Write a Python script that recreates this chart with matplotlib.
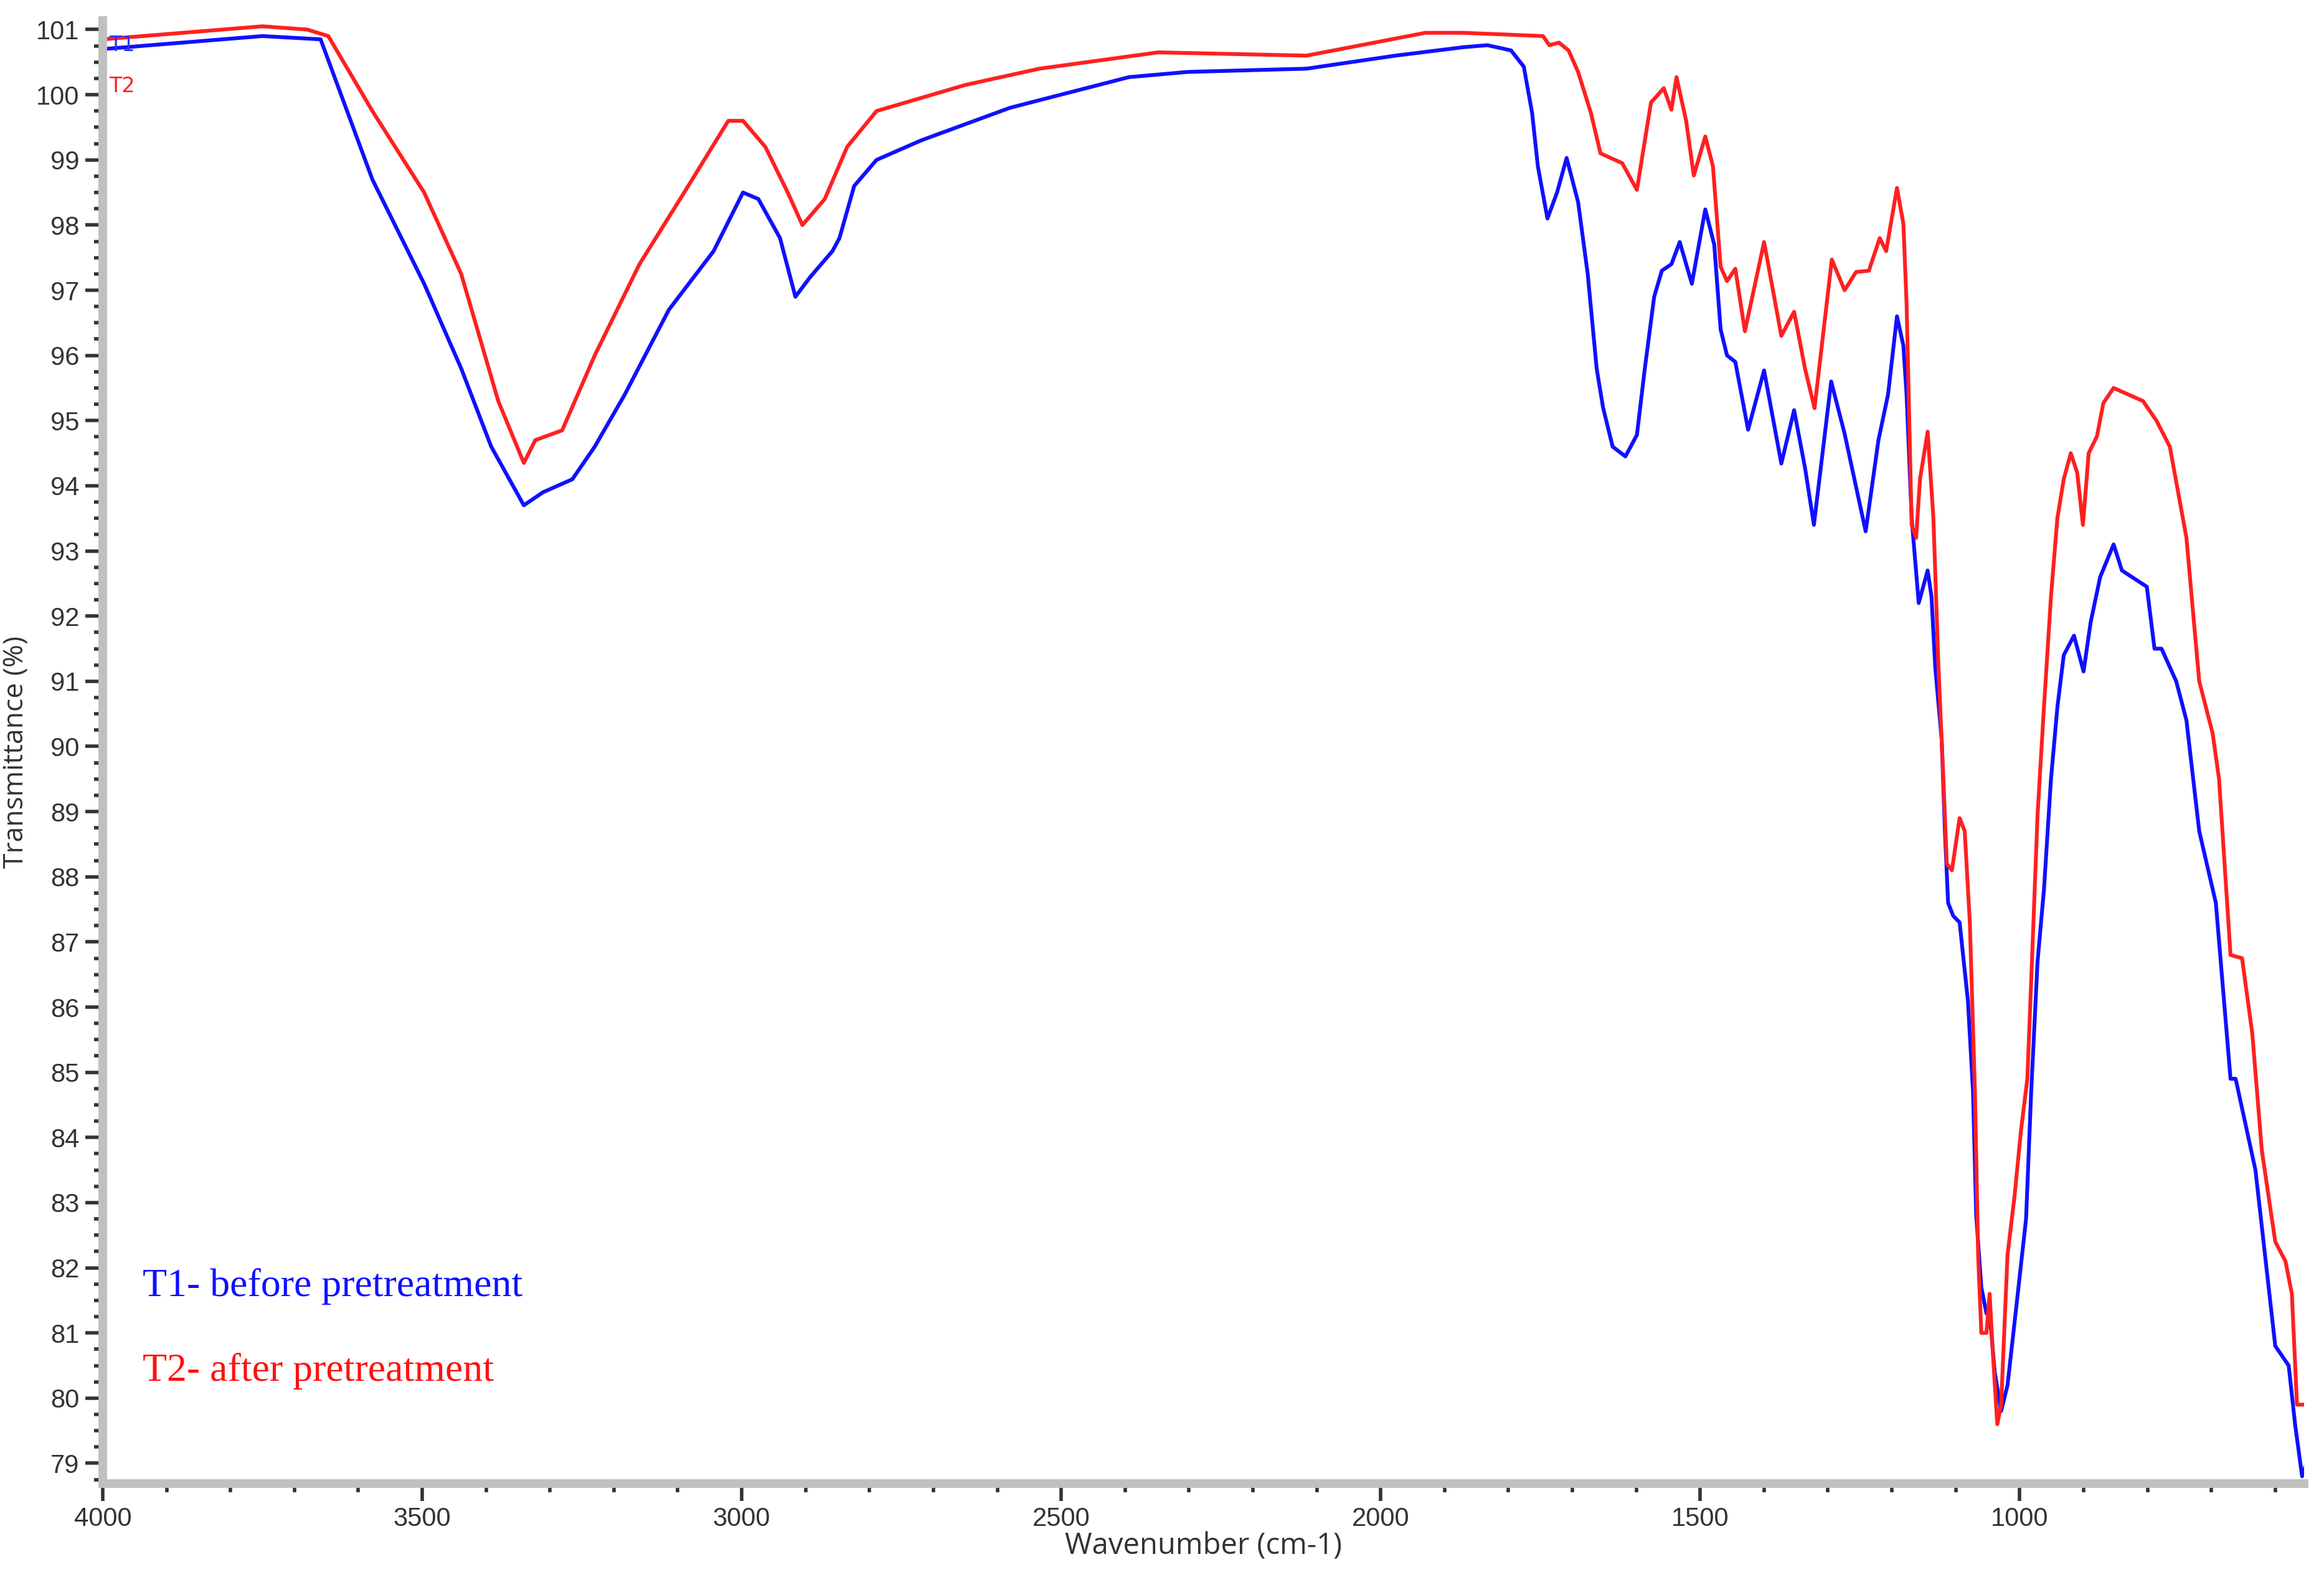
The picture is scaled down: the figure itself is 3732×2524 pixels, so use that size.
import matplotlib
matplotlib.use("Agg")
import matplotlib.pyplot as plt
from matplotlib.ticker import MultipleLocator

t1_wn = [4000,3750,3659,3578,3497,3439,3392,3341,3311,3265,3230,3183,3114,3044,2998,2974,2940,2916,2893,2858,2847,2824,2789,2719,2580,2394,2302,2116,1977,1870,1833,1796,1776,1763,1754,1739,1724,1709,1691,1676,1662,1652,1637,1617,1599,1587,1572,1560,1545,1532,1513,1502,1492,1478,1468,1458,1445,1425,1400,1373,1353,1336,1322,1295,1274,1241,1221,1206,1192,1182,1177,1169,1158,1144,1138,1132,1122,1117,1112,1104,1094,1081,1073,1068,1060,1052,1047,1039,1029,1019,1003,990,982,972,962,951,941,931,915,900,889,874,853,840,801,789,778,755,739,719,693,670,662,631,600,579,569,558,551]
t1_val = [100.7,100.9,100.85,98.7,97.1,95.8,94.6,93.7,93.9,94.1,94.6,95.4,96.7,97.6,98.5,98.4,97.8,96.9,97.2,97.6,97.8,98.6,99.0,99.3,99.8,100.27,100.35,100.4,100.6,100.73,100.76,100.68,100.43,99.72,98.9,98.1,98.5,99.03,98.35,97.25,95.8,95.2,94.6,94.45,94.78,95.77,96.9,97.3,97.4,97.74,97.1,97.7,98.24,97.7,96.4,96.0,95.9,94.86,95.77,94.34,95.16,94.28,93.4,95.6,94.8,93.3,94.7,95.4,96.6,96.15,95.4,93.5,92.2,92.7,92.3,91.2,90.1,88.7,87.6,87.4,87.3,86.1,84.7,82.8,81.7,81.3,81.3,80.4,79.8,80.2,81.6,82.75,84.7,86.7,87.8,89.5,90.6,91.4,91.7,91.15,91.9,92.6,93.1,92.7,92.45,91.5,91.5,91.0,90.4,88.7,87.6,84.9,84.9,83.5,80.8,80.5,79.6,78.8,79.0]

t2_wn = [4000,3750,3680,3647,3578,3497,3439,3381,3341,3323,3281,3230,3160,3090,3021,2998,2963,2928,2905,2870,2835,2789,2650,2534,2348,2116,1930,1870,1746,1736,1721,1706,1691,1671,1656,1622,1599,1577,1557,1545,1537,1522,1510,1492,1480,1468,1458,1445,1430,1400,1373,1353,1336,1321,1294,1274,1256,1236,1219,1209,1192,1182,1177,1169,1162,1156,1144,1135,1127,1119,1114,1106,1094,1086,1078,1070,1065,1060,1052,1047,1042,1035,1029,1019,1008,998,988,980,972,962,951,941,931,920,910,901,892,879,869,853,807,786,765,739,719,698,688,670,652,636,621,600,584,574,566,551]
t2_val = [100.85,101.05,101.0,100.9,99.75,98.5,97.25,95.3,94.35,94.7,94.85,96.0,97.4,98.5,99.6,99.6,99.2,98.5,98.0,98.4,99.2,99.75,100.15,100.4,100.65,100.6,100.95,100.95,100.9,100.76,100.8,100.68,100.35,99.72,99.1,98.95,98.54,99.88,100.1,99.77,100.27,99.6,98.76,99.36,98.9,97.36,97.14,97.33,96.37,97.74,96.3,96.67,95.8,95.19,97.47,97.0,97.28,97.3,97.8,97.6,98.57,98.02,96.8,93.4,93.2,94.1,94.83,93.5,91.2,89.4,88.2,88.1,88.9,88.7,87.3,84.7,82.2,81.0,81.0,81.6,80.7,79.6,79.9,82.2,83.1,84.1,84.9,86.9,88.95,90.6,92.3,93.5,94.1,94.5,94.2,93.4,94.5,94.76,95.27,95.5,95.3,95.0,94.6,93.2,91.0,90.2,89.5,86.8,86.75,85.6,83.8,82.4,82.1,81.6,79.9,79.9]

fig = plt.figure(figsize=(18.66, 12.62), dpi=200)
ax = fig.add_axes([0.0442, 0.0563, 0.9472, 0.9307])
ax.plot(t1_wn, t1_val, color="#1010ff", lw=2.2)
ax.plot(t2_wn, t2_val, color="#ff2020", lw=2.2)
ax.set_xlim(4000, 555)
ax.set_ylim(78.69, 101.14)
ax.xaxis.set_major_locator(MultipleLocator(500))
ax.xaxis.set_minor_locator(MultipleLocator(100))
ax.yaxis.set_major_locator(MultipleLocator(1))
ax.yaxis.set_minor_locator(MultipleLocator(0.25))
for s in ["top", "right"]:
    ax.spines[s].set_visible(False)
for s in ["left", "bottom"]:
    ax.spines[s].set_color("#c0c0c0")
    ax.spines[s].set_linewidth(5)
ax.tick_params(which="major", length=10, width=2, color="#333333", labelsize=15, colors="#333333")
ax.tick_params(which="minor", length=5, width=2, color="#333333")
for lab in ax.get_xticklabels() + ax.get_yticklabels():
    lab.set_fontfamily("Liberation Sans")
ax.set_ylabel("Transmittance (%)", fontsize=16, color="#333333", family="Open Sans")
ax.yaxis.set_label_coords(-0.033, 0.5)
ax.set_xlabel("Wavenumber (cm-1)", fontsize=17, color="#333333", family="Open Sans", labelpad=0)
ax.text(0.003, 0.99, "T1", transform=ax.transAxes, color="#3030ff", fontsize=12, va="top")
ax.text(0.003, 0.962, "T2", transform=ax.transAxes, color="#ff2020", fontsize=12, va="top")
ax.text(0.018, 0.128, "T1- before pretreatment", transform=ax.transAxes, color="#1010ff",
        fontsize=23, family="Liberation Serif")
ax.text(0.018, 0.070, "T2- after pretreatment", transform=ax.transAxes, color="#ff1010",
        fontsize=23, family="Liberation Serif")
fig.savefig("out.png", dpi=200)
